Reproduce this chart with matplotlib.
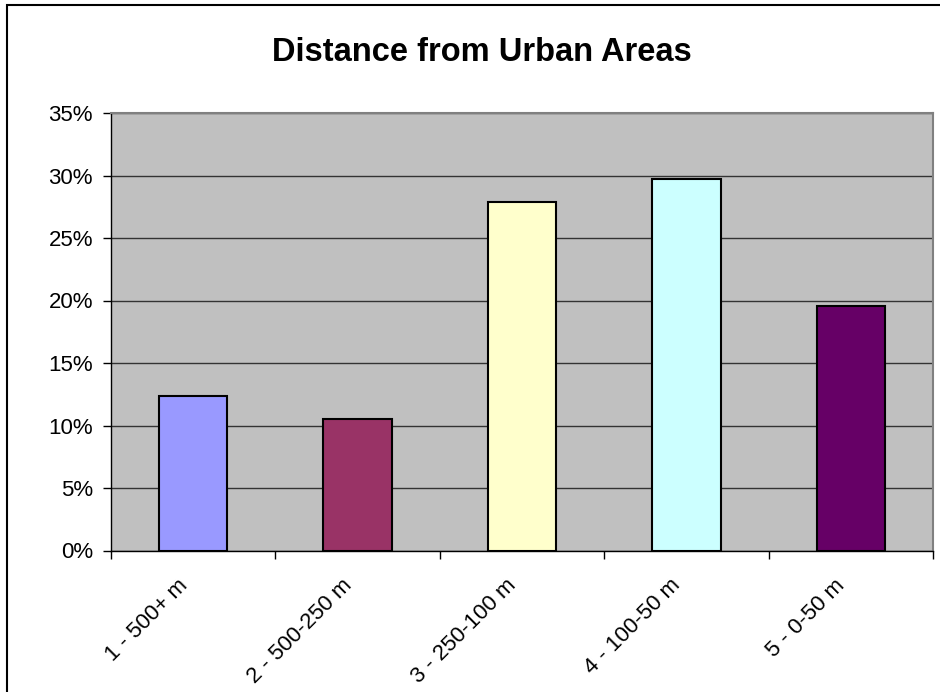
import matplotlib
matplotlib.use("Agg")
import matplotlib.pyplot as plt
from matplotlib.patches import Rectangle
from matplotlib.transforms import ScaledTranslation

plt.rcParams['font.family'] = ['Liberation Sans', 'DejaVu Sans']

categories = ["1 - 500+ m", "2 - 500-250 m", "3 - 250-100 m", "4 - 100-50 m", "5 - 0-50 m"]
values = [12.4, 10.5, 27.9, 29.7, 19.6]
bar_colors = ["#9999FF", "#993366", "#FFFFCC", "#CCFFFF", "#660066"]
y_ticks = [0, 5, 10, 15, 20, 25, 30, 35]
y_tick_labels = [f"{t}%" for t in y_ticks]
title = "Distance from Urban Areas"

W, H = 940, 692
fig = plt.figure(figsize=(W / 100, H / 100), dpi=100)

# outer chart frame
fig.patches.append(Rectangle((7 / W, -0.05), 1.2, 1 - 5 / H + 0.05, transform=fig.transFigure,
                             fill=False, edgecolor="black", linewidth=1.5, zorder=0))

left, right = 111 / W, 933 / W
bottom, top = 1 - 550.5 / H, 1 - 113 / H
ax = fig.add_axes([left, bottom, right - left, top - bottom])
ax.set_facecolor("#C0C0C0")

x = list(range(len(categories)))
ax.bar(x, values, width=0.415, color=bar_colors, edgecolor="black", linewidth=1.5, zorder=3)

ax.set_xlim(-0.5, len(categories) - 0.5)
ax.set_ylim(0, 35)
ax.set_yticks(y_ticks)
ax.set_yticklabels(y_tick_labels, fontsize=16)
ax.yaxis.grid(True, color="#333333", linewidth=1, zorder=1)
ax.set_axisbelow(True)
ax.tick_params(axis="y", length=6, width=1, pad=7, color="black")

# category labels at bar centres, tick marks at category boundaries
ax.set_xticks(x)
ax.set_xticklabels(categories, fontsize=16, rotation=45, ha="right", va="center",
                   rotation_mode="anchor")
ax.tick_params(axis="x", which="major", length=0, pad=23)
shift = ScaledTranslation(-9 / 100, 0, fig.dpi_scale_trans)
for lbl in ax.get_xticklabels():
    lbl.set_transform(lbl.get_transform() + shift)
ax.set_xticks([i - 0.5 for i in range(len(categories) + 1)], minor=True)
ax.tick_params(axis="x", which="minor", length=6, width=1, color="black")

for side in ("top", "right"):
    ax.spines[side].set_color("#808080")
    ax.spines[side].set_linewidth(1.5)
for side in ("left", "bottom"):
    ax.spines[side].set_color("black")
    ax.spines[side].set_linewidth(1)

fig.text(482 / W, 1 - 61 / H, title, ha="center", va="baseline", fontsize=23.5, fontweight="bold")

fig.savefig("out.png", dpi=100)
